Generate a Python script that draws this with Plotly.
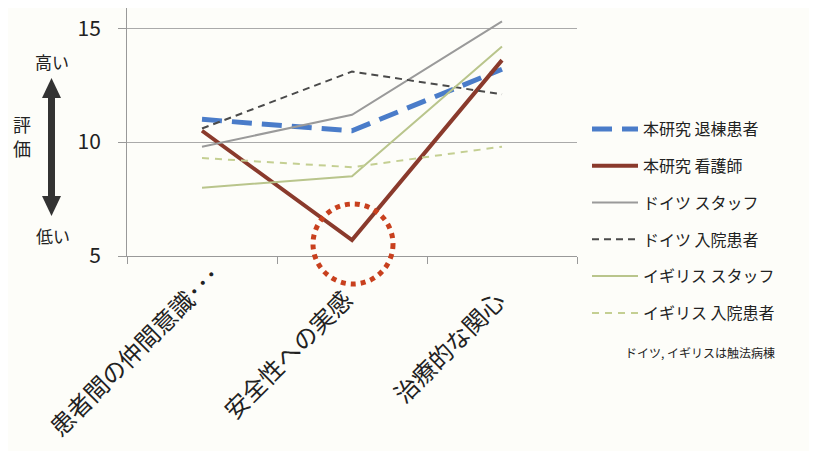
import plotly.graph_objects as go

categories = ["患者間の仲間意識･･･", "安全性への実感", "治療的な関心"]
series_names = ["本研究 退棟患者", "本研究 看護師", "ドイツ スタッフ", "ドイツ 入院患者", "イギリス スタッフ", "イギリス 入院患者"]
honkenkyu_taito = [11.0, 10.5, 13.2]
honkenkyu_kango = [10.5, 5.7, 13.6]
germany_staff = [9.8, 11.2, 15.3]
germany_patient = [10.6, 13.1, 12.1]
uk_staff = [8.0, 8.5, 14.2]
uk_patient = [9.3, 8.9, 9.8]
y_ticks = [5, 10, 15]

series_values = [honkenkyu_taito, honkenkyu_kango, germany_staff, germany_patient, uk_staff, uk_patient]
styles = [
    dict(color="#4a7cc9", width=5, dash="20px,10px"),
    dict(color="#8a3a2c", width=4, dash="solid"),
    dict(color="#9a9a9a", width=2, dash="solid"),
    dict(color="#4a4a4a", width=2, dash="7px,5px"),
    dict(color="#b9c58c", width=2, dash="solid"),
    dict(color="#c4cf92", width=2, dash="7px,6px"),
]

FONT = "Noto Sans CJK JP"
OFF = 8  # page body margin
W, H = 809, 443
L, T = 119, 0
PW, PH = 450, 248
R, B = W - L - PW, H - T - PH

def px(x):
    return (x - OFF - L) / PW

def py(y):
    return (H - B - (y - OFF)) / PH

fig = go.Figure()
for i, (name, vals, st) in enumerate(zip(series_names, series_values, styles)):
    fig.add_trace(go.Scatter(
        x=categories, y=vals, name=name, mode="lines",
        line=dict(color=st["color"], width=st["width"], dash=st["dash"]),
        legendgroup=f"g{i}",
    ))

shapes = []
# red dotted circle around nurse dip
shapes.append(dict(type="circle", xref="paper", yref="paper",
                   x0=px(313), x1=px(393), y0=py(284), y1=py(204),
                   line=dict(color="#c8401e", width=5, dash="dot"), layer="above"))
# double arrow on left
ac = "#333333"
shapes.append(dict(type="rect", xref="paper", yref="paper",
                   x0=px(48), x1=px(55), y0=py(202), y1=py(92),
                   line=dict(width=0), fillcolor=ac))
shapes.append(dict(type="path", xref="paper", yref="paper",
                   path=f"M {px(51.5)},{py(78)} L {px(42)},{py(98)} L {px(61)},{py(98)} Z",
                   line=dict(width=0), fillcolor=ac))
shapes.append(dict(type="path", xref="paper", yref="paper",
                   path=f"M {px(51.5)},{py(216)} L {px(42)},{py(196)} L {px(61)},{py(196)} Z",
                   line=dict(width=0), fillcolor=ac))

def side_text(text, x, y, size):
    return dict(text=text, x=px(x), y=py(y), xref="paper", yref="paper", showarrow=False,
                xanchor="center", yanchor="middle", font=dict(size=size, color="#222", family=FONT))

annotations = [
    side_text("高い", 52, 61, 17),
    side_text("評", 22, 124, 18),
    side_text("価", 22, 148, 18),
    side_text("低い", 53, 235, 17),
    dict(text="ドイツ, イギリスは触法病棟", x=px(623), y=py(352), xref="paper", yref="paper",
         xanchor="left", yanchor="middle", showarrow=False,
         font=dict(size=12, color="#222", family=FONT)),
]

# category labels (rotated) placed under each category
label_tops = [254, 279, 280]
label_xshift = [28, 10, 12]
for cat, top, xs in zip(categories, label_tops, label_xshift):
    annotations.append(dict(
        text=cat, x=cat, xref="x", y=py(top), yref="paper", xanchor="right", yanchor="top",
        xshift=xs, textangle=-45, showarrow=False,
        font=dict(size=24, color="#222", family=FONT),
    ))

fig.update_layout(
    width=W, height=H,
    margin=dict(l=L, r=R, t=T, b=B, autoexpand=False),
    paper_bgcolor="#fdfdf9", plot_bgcolor="#fdfdf9",
    font=dict(family=FONT, color="#222"),
    shapes=shapes, annotations=annotations,
    showlegend=True,
    legend=dict(x=px(587), y=py(112), xanchor="left", yanchor="top",
                font=dict(size=16, family=FONT, color="#222"), itemwidth=46,
                tracegroupgap=13, bgcolor="rgba(0,0,0,0)"),
)
fig.update_xaxes(
    type="category", tickson="boundaries", ticks="outside", ticklen=7,
    tickcolor="#999", showline=True, linecolor="#999", linewidth=1, showgrid=False,
    showticklabels=False, range=[-0.5, 2.5], automargin=False,
)
fig.update_yaxes(
    range=[5, 15.89], tickvals=y_ticks, showgrid=True, gridcolor="#aaa", gridwidth=1,
    showline=True, linecolor="#999", linewidth=1, ticks="outside", ticklen=8, tickcolor="#999",
    tickfont=dict(size=21, family=FONT, color="#222"), ticklabelstandoff=13, zeroline=False,
    automargin=False,
)
fig.write_html("out.html")
